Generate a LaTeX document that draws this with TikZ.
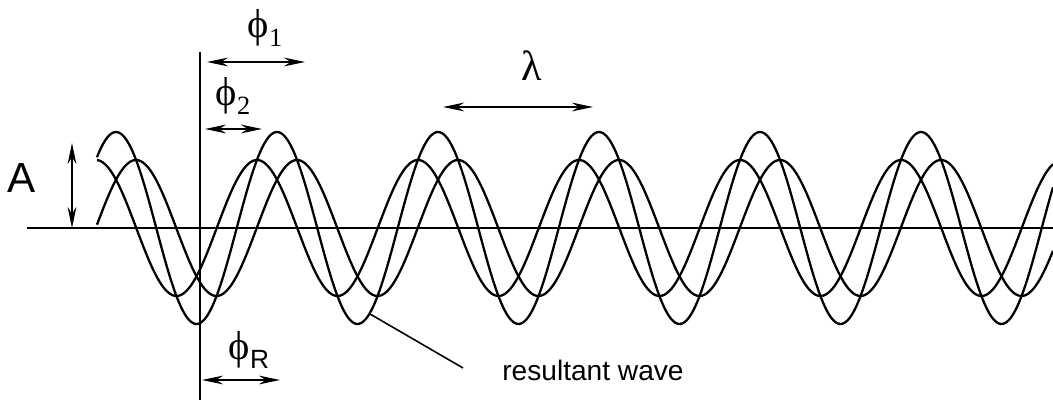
\documentclass[tikz,border=0pt]{standalone}
\usepackage{fontspec}
\setmainfont{Liberation Sans}
\setsansfont{Liberation Sans}
\newfontfamily\greekfont{Liberation Serif}
\usepackage{tikz}
\usetikzlibrary{arrows.meta}

\newcommand{\phisub}[2]{{\greekfont ϕ}\raisebox{-0.22em}{\fontsize{15}{15}\selectfont #1#2}}

\tikzset{
  wave/.style={line width=1.3pt, line join=round, smooth},
  refline/.style={line width=0.9pt},
  dimarrow/.style={{Stealth[length=12pt,width=5pt]}-{Stealth[length=12pt,width=5pt]}, line width=1pt},
  philabel/.style={font=\fontsize{23}{26}\selectfont, inner sep=0pt},
}

\begin{document}
\begin{tikzpicture}
  \useasboundingbox (0,0) rectangle (21.06,8);

  % Axes
  \draw[refline] (0.54,3.44) -- (21.06,3.44);
  \draw[refline] (4.0,6.96) -- (4.0,0);

  % --- Waves: two components and their resultant ---
  \begin{scope}
    \clip (0,0) rectangle (21.06,8);
    \draw[wave] plot[domain=1.94:21.06, samples=500] (\x, {3.44+1.36*cos((\x-1.92)*360/3.22)});
    \draw[wave] plot[domain=1.94:21.06, samples=500] (\x, {3.44+1.36*cos((\x-2.72)*360/3.22)});
    \draw[wave] plot[domain=1.94:21.06, samples=500] (\x, {3.44+1.92*cos((\x-2.32)*360/3.22)});
  \end{scope}

  % Amplitude
  \node[font=\fontsize{24}{28}\selectfont, inner sep=0pt] (ampl) at (0.44,4.44) {A};
  \draw[dimarrow] (1.44,5.14) -- (1.44,3.44);

  % Phase shifts
  \node[philabel] (phione) at (5.30,7.44) {\phisub{\greekfont}{1}};
  \draw[dimarrow] (4.14,6.76) -- (6.10,6.76);
  \node[philabel] (phitwo) at (4.66,6.08) {\phisub{\greekfont}{2}};
  \draw[dimarrow] (4.10,5.42) -- (5.24,5.42);
  \node[philabel] (phires) at (4.98,1.00) {\phisub{\sffamily}{R}};
  \draw[dimarrow] (4.04,0.40) -- (5.60,0.40);

  % Wavelength
  \node[font=\fontsize{24}{28}\selectfont\greekfont, inner sep=0pt] (lambda) at (10.64,6.68) {λ};
  \draw[dimarrow] (8.86,5.86) -- (11.86,5.86);

  % Resultant label
  \coordinate (restip) at (7.40,1.72);
  \node[font=\fontsize{16}{19}\selectfont, anchor=west, inner sep=0pt] (reslabel) at (10.04,0.60) {resultant wave};
  \draw[line width=0.9pt] (restip) -- ([xshift=-0.78cm,yshift=0.04cm]reslabel.west);
\end{tikzpicture}
\end{document}
